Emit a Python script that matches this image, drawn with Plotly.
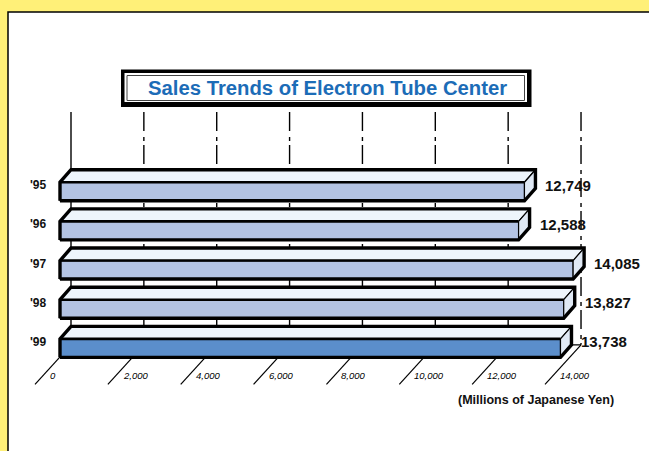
import plotly.graph_objects as go

# ---------------- data ----------------
years = ["'95", "'96", "'97", "'98", "'99"]
sales = [12749, 12588, 14085, 13827, 13738]
value_labels = ["12,749", "12,588", "14,085", "13,827", "13,738"]
tick_values = [0, 2000, 4000, 6000, 8000, 10000, 12000, 14000]
tick_labels = ["0", "2,000", "4,000", "6,000", "8,000", "10,000", "12,000", "14,000"]
title_text = "Sales Trends of Electron Tube Center"
unit_text = "(Millions of Japanese Yen)"

# ---------------- geometry / style ----------------
W, H = 649, 451
K = 0.03643          # pixels per million yen
X_ORIGIN = 60.0      # pixel position of 0 on the front plane
Y0 = 191.5           # pixel centre of first bar front face
S = 39.15            # pixels per category
HALF = 9.25          # half height of bar front face (px)
DXP, DYP = 11.0, -12.5   # depth offset (px)
GRID_TOP_PX = 112

FONT = "Liberation Sans, Arial, sans-serif"
FRONT = "#b3c3e3"
FRONT_LAST = "#5b8ecb"
TOPC = "#eef5fc"
SIDE = "#e0e9f5"
TITLE_BLUE = "#1c6cb7"

x_range = [-X_ORIGIN / K, (W - X_ORIGIN) / K]
y_range = [(H - Y0) / S, (0 - Y0) / S]


def dx(px):
    return px / K


def dy(px):
    return px / S


def P(xpx, ypx):
    return xpx / W, 1 - ypx / H


fig = go.Figure()

n = len(years)
floor_front = (n - 1) + dy(HALF)
floor_back = floor_front + dy(DYP)
grid_top = dy(GRID_TOP_PX - Y0)

# back gridlines
for j, v in enumerate(tick_values):
    fig.add_trace(go.Scatter(
        x=[v + dx(DXP), v + dx(DXP)], y=[grid_top, floor_back], mode="lines",
        line=dict(color="black", width=1.4,
                  dash="solid" if j == 0 else "19px,6px,4px,4px"),
        hoverinfo="skip", showlegend=False))

# floor back edge
fig.add_trace(go.Scatter(
    x=[dx(DXP), tick_values[-1] + dx(DXP)], y=[floor_back, floor_back], mode="lines",
    line=dict(color="black", width=1.4), hoverinfo="skip", showlegend=False))

# floor ticks
for v in tick_values:
    fig.add_trace(go.Scatter(
        x=[v + dx(DXP), v - dx(25)], y=[floor_back, floor_front + dy(27)], mode="lines",
        line=dict(color="black", width=1.2), hoverinfo="skip", showlegend=False))

# bars
for i, v in enumerate(sales):
    top = i + dy(-HALF)
    bot = i + dy(HALF)
    ddx, ddy = dx(DXP), dy(DYP)
    front_col = FRONT_LAST if i == n - 1 else FRONT
    faces = [
        ([0, v, v, 0, 0], [top, top, bot, bot, top], front_col),
        ([0, v, v + ddx, ddx, 0], [top, top, top + ddy, top + ddy, top], TOPC),
        ([v, v + ddx, v + ddx, v, v], [top, top + ddy, bot + ddy, bot, top], SIDE),
    ]
    for xs, ys, col in faces:
        fig.add_trace(go.Scatter(
            x=xs, y=ys, mode="lines", fill="toself", fillcolor=col,
            line=dict(color="black", width=1.2), hoverinfo="skip", showlegend=False))
    # front top edge
    fig.add_trace(go.Scatter(
        x=[0, v], y=[top, top], mode="lines", line=dict(color="black", width=2.6),
        hoverinfo="skip", showlegend=False))
    # silhouette
    fig.add_trace(go.Scatter(
        x=[0, 0, ddx, v + ddx, v + ddx, v, 0],
        y=[bot, top, top + ddy, top + ddy, bot + ddy, bot, bot],
        mode="lines", line=dict(color="black", width=3.4),
        hoverinfo="skip", showlegend=False))

annotations = []
# category labels
for i, lab in enumerate(years):
    annotations.append(dict(
        x=-dx(11), y=i + dy(DYP / 2), xref="x", yref="y", text="<b>%s</b>" % lab,
        showarrow=False, xanchor="right", yanchor="middle",
        font=dict(family=FONT, size=12, color="#111")))
# value labels
for i, (v, lab) in enumerate(zip(sales, value_labels)):
    annotations.append(dict(
        x=v + dx(DXP + 8), y=i + dy(DYP / 2), xref="x", yref="y", text="<b>%s</b>" % lab,
        showarrow=False, xanchor="left", yanchor="middle",
        font=dict(family=FONT, size=15, color="#111")))
# tick labels
for v, lab in zip(tick_values, tick_labels):
    annotations.append(dict(
        x=v - dx(12), y=floor_front + dy(18), xref="x", yref="y", text="<i>%s</i>" % lab,
        showarrow=False, xanchor="left", yanchor="middle",
        font=dict(family=FONT, size=9.5, color="#000")))
# unit label
ux, uy = P(536, 400)
annotations.append(dict(
    x=ux, y=uy, xref="paper", yref="paper", text="<b>%s</b>" % unit_text,
    showarrow=False, xanchor="center", yanchor="middle",
    font=dict(family=FONT, size=12.5, color="#111")))
# title
tx, ty = P(327, 88)
annotations.append(dict(
    x=tx, y=ty, xref="paper", yref="paper", text="<b>%s</b>" % title_text,
    showarrow=False, xanchor="center", yanchor="middle",
    font=dict(family=FONT, size=20.3, color=TITLE_BLUE)))

shapes = []
# white page panel
px0, py1 = P(8, 12)
shapes.append(dict(type="rect", xref="paper", yref="paper", x0=px0, x1=1.05, y0=-0.05, y1=py1,
                   fillcolor="white", line=dict(color="black", width=1.5), layer="below"))
# title box
ax0, ay0 = P(121, 69.5)
ax1, ay1 = P(531.5, 107)
shapes.append(dict(type="rect", xref="paper", yref="paper", x0=ax0, x1=ax1, y0=ay1, y1=ay0,
                   fillcolor="black", line=dict(width=0), layer="below"))
bx0, by0 = P(124.5, 73)
bx1, by1 = P(527, 102)
shapes.append(dict(type="rect", xref="paper", yref="paper", x0=bx0, x1=bx1, y0=by1, y1=by0,
                   fillcolor="white", line=dict(width=0), layer="below"))
cx0, cy0 = P(127, 75.5)
cx1, cy1 = P(524.5, 100.5)
shapes.append(dict(type="rect", xref="paper", yref="paper", x0=cx0, x1=cx1, y0=cy1, y1=cy0,
                   fillcolor="rgba(0,0,0,0)", line=dict(color="#444", width=1), layer="below"))

fig.update_layout(
    width=W, height=H, autosize=False,
    margin=dict(l=0, r=0, t=0, b=0, pad=0),
    paper_bgcolor="#fff078", plot_bgcolor="rgba(0,0,0,0)",
    xaxis=dict(range=x_range, visible=False, fixedrange=True, domain=[0, 1]),
    yaxis=dict(range=y_range, visible=False, fixedrange=True, domain=[0, 1]),
    showlegend=False, annotations=annotations, shapes=shapes,
)

fig.write_html(
    "out.html",
    config={"displayModeBar": False},
    post_script="document.body.style.margin='0';document.body.style.overflow='hidden';",
)
